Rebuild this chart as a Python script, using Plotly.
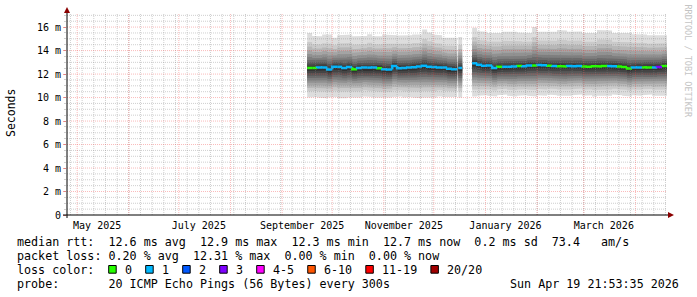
import plotly.graph_objects as go
import pandas as pd

# ---------------- data ----------------
END = pd.Timestamp("2026-04-19 21:53:35")
START = END - pd.Timedelta(days=360)

# segment A: 2025-09-16 .. 2025-12-15 (3-day buckets)
seg_a_range = ("2025-09-16 00:00", "2025-12-15 00:00")
median_a = [12.52, 12.52, 12.55, 12.57, 12.38, 12.62, 12.62, 12.52, 12.60, 12.40,
            12.52, 12.55, 12.55, 12.57, 12.50, 12.40, 12.38, 12.68, 12.50, 12.52,
            12.55, 12.58, 12.65, 12.70, 12.62, 12.60, 12.57, 12.55, 12.45, 12.40]
max_a = [15.50, 15.25, 15.22, 15.36, 15.36, 15.10, 15.30, 15.36, 15.36, 15.22,
         15.22, 15.25, 15.40, 15.22, 15.22, 15.36, 15.36, 15.30, 15.28, 15.28,
         15.30, 15.36, 15.36, 15.80, 15.55, 15.36, 15.30, 15.10, 15.07, 15.10]
min_a = [10.00, 10.05, 10.00, 9.95, 10.00, 10.05, 9.95, 9.95, 10.00, 10.05,
         10.00, 10.10, 10.05, 10.00, 10.00, 9.95, 10.00, 10.05, 10.10, 10.00,
         10.05, 10.00, 9.95, 10.00, 10.05, 10.00, 10.10, 10.05, 10.00, 10.05]
loss_a = [0, 0, 1, 1, 1, 1, 1, 1, 1, 0,
          1, 1, 1, 1, 0, 1, 1, 1, 1, 1,
          1, 1, 1, 1, 1, 1, 1, 1, 1, 1]

# segment B: short strip after a one-sample gap
seg_b_range = ("2025-12-15 16:00", "2025-12-18 00:00")
median_b = [12.52]
max_b = [15.15]
min_b = [10.00]
loss_b = [1]

# segment C: 2025-12-24 .. end
seg_c_range = ("2025-12-24 00:00", "2026-04-19 21:53:35")
median_c = [12.92, 12.80, 12.70, 12.72, 12.52, 12.62, 12.63, 12.62, 12.64, 12.68,
            12.66, 12.74, 12.72, 12.77, 12.75, 12.70, 12.68, 12.66, 12.65, 12.68,
            12.66, 12.69, 12.64, 12.62, 12.66, 12.65, 12.68, 12.68, 12.66, 12.64,
            12.60, 12.47, 12.55, 12.57, 12.58, 12.56, 12.57, 12.60, 12.68]
max_c = [15.95, 15.65, 15.60, 15.50, 15.50, 15.50, 15.60, 15.62, 15.60, 15.55,
         15.50, 15.50, 16.00, 15.60, 15.55, 15.60, 15.60, 15.75, 15.70, 15.60,
         15.60, 15.62, 15.50, 15.50, 15.50, 15.75, 15.70, 15.70, 15.50, 15.50,
         15.45, 15.50, 15.40, 15.36, 15.36, 15.30, 15.30, 15.25, 15.30]
min_c = [10.10, 10.15, 10.20, 10.15, 10.10, 10.20, 10.25, 10.15, 10.10, 10.15,
         10.20, 10.15, 10.10, 10.20, 10.15, 10.25, 10.20, 10.15, 10.10, 10.15,
         10.20, 10.25, 10.15, 10.20, 10.10, 10.15, 10.20, 10.15, 10.25, 10.20,
         10.15, 10.10, 10.20, 10.15, 10.20, 10.25, 10.15, 10.20, 10.15]
loss_c = [1, 1, 1, 1, 1, 0, 1, 1, 1, 0,
          1, 1, 0, 1, 1, 0, 1, 0, 0, 1,
          1, 1, 0, 0, 0, 0, 0, 1, 1, 0,
          0, 0, 1, 1, 0, 0, 1, 3, 0]

# loss colour legend
loss_labels = ["0", "1", "2", "3", "4-5", "6-10", "11-19", "20/20"]
loss_upper = [0, 1, 2, 3, 5, 10, 19, 20]
loss_colors = ["#26ff00", "#00b8ff", "#0059ff", "#7e00ff", "#ff00ff", "#ff5500", "#ff0000", "#a10000"]

# y ticks
y_tick_vals = [0, 2, 4, 6, 8, 10, 12, 14, 16]
y_tick_text = ["0", "2 m", "4 m", "6 m", "8 m", "10 m", "12 m", "14 m", "16 m"]

# x labels
x_label_dates = ["2025-05-13", "2025-07-13", "2025-09-13", "2025-11-13", "2026-01-13", "2026-03-13"]
x_label_text = ["May 2025", "July 2025", "September 2025", "November 2025", "January 2026", "March 2026"]

# statistics text
rtt_stats = ["12.6 ms avg", "12.9 ms max", "12.3 ms min", "12.7 ms now", "0.2 ms sd", "73.4   am/s"]
loss_stats = ["0.20 % avg", "12.31 % max", "0.00 % min", "0.00 % now"]
probe_text = "20 ICMP Echo Pings (56 Bytes) every 300s"
stamp_text = "Sun Apr 19 21:53:35 2026"

# ---------------- style ----------------
FONT = "DejaVu Sans Mono"
W, H = 697, 297
PL, PR, PT, PB = 67, 667, 13, 215
Y_MAX = 17.2

# smoke profile (fraction of spread from median), inner -> outer, and grays
hi_frac = [0.05, 0.10, 0.16, 0.23, 0.31, 0.40, 0.50, 0.61, 0.74, 1.0]
lo_frac = [0.10, 0.18, 0.26, 0.34, 0.42, 0.50, 0.59, 0.68, 0.79, 1.0]
grays = ["#323232", "#454545", "#585858", "#6b6b6b", "#7e7e7e",
         "#919191", "#a4a4a4", "#b7b7b7", "#cacaca", "#dddddd"]


def xp(px):
    return (px - PL) / (PR - PL)


def yp(py):
    return (PB - py) / (PB - PT)


segments = [
    (seg_a_range, median_a, max_a, min_a, loss_a),
    (seg_b_range, median_b, max_b, min_b, loss_b),
    (seg_c_range, median_c, max_c, min_c, loss_c),
]

fig = go.Figure()

# smoke: nested polygons, outer first
for k in range(len(hi_frac) - 1, -1, -1):
    xs, ys = [], []
    for (rng, med, mx, mn, loss) in segments:
        n = len(med)
        edges = pd.date_range(rng[0], rng[1], periods=n + 1)
        up = [m + hi_frac[k] * (t - m) for m, t in zip(med, mx)]
        lo = [m - lo_frac[k] * (m - b) for m, b in zip(med, mn)]
        px_, py_ = [], []
        for i in range(n):
            px_ += [edges[i], edges[i + 1]]
            py_ += [up[i], up[i]]
        for i in range(n - 1, -1, -1):
            px_ += [edges[i + 1], edges[i]]
            py_ += [lo[i], lo[i]]
        xs += px_ + [None]
        ys += py_ + [None]
    fig.add_trace(go.Scatter(x=xs, y=ys, mode="lines", fill="toself",
                             fillcolor=grays[k], line=dict(width=0, color=grays[k]),
                             hoverinfo="skip", showlegend=False))


def loss_color(v):
    for up_, c in zip(loss_upper, loss_colors):
        if v <= up_:
            return c
    return loss_colors[-1]


# median line coloured by loss
lines = {c: ([], []) for c in loss_colors}
for (rng, med, mx, mn, loss) in segments:
    n = len(med)
    edges = pd.date_range(rng[0], rng[1], periods=n + 1)
    for i in range(n):
        c = loss_color(loss[i])
        lx, ly = lines[c]
        if i > 0:
            lx += [edges[i]]
            ly += [med[i - 1]]
        lx += [edges[i], edges[i + 1], None]
        ly += [med[i], med[i], None]
for c, (lx, ly) in lines.items():
    if lx:
        fig.add_trace(go.Scatter(x=lx, y=ly, mode="lines", line=dict(color=c, width=2.5),
                                 hoverinfo="skip", showlegend=False))

shapes = []
DOT = "1px,1px"
minor_col = "rgba(130,130,130,0.38)"
major_col = "rgba(240,60,60,0.35)"

# minor vertical grid (weekly, Sundays)
for d in pd.date_range("2025-04-27", END, freq="7D"):
    shapes.append(dict(type="line", xref="x", yref="paper", x0=d, x1=d, y0=0, y1=1,
                       line=dict(color=minor_col, width=1, dash=DOT), layer="above"))
# minor horizontal grid
v = 0.5
while v <= 17.0 + 1e-9:
    if abs(v / 2 - round(v / 2)) > 1e-9:
        shapes.append(dict(type="line", xref="paper", yref="y", x0=0, x1=1, y0=v, y1=v,
                           line=dict(color=minor_col, width=1, dash=DOT), layer="above"))
    v += 0.5
# major vertical grid (month starts)
for d in pd.date_range("2025-05-01", END, freq="MS"):
    shapes.append(dict(type="line", xref="x", yref="paper", x0=d, x1=d, y0=0, y1=1,
                       line=dict(color=major_col, width=1, dash=DOT), layer="above"))
# major horizontal grid
for v in y_tick_vals[1:]:
    shapes.append(dict(type="line", xref="paper", yref="y", x0=0, x1=1, y0=v, y1=v,
                       line=dict(color=major_col, width=1, dash=DOT), layer="above"))

# axes lines
shapes.append(dict(type="line", xref="paper", yref="paper", x0=xp(63), x1=xp(670), y0=0, y1=0,
                   line=dict(color="black", width=1), layer="above"))
shapes.append(dict(type="line", xref="paper", yref="paper", x0=0, x1=0, y0=yp(218), y1=yp(11),
                   line=dict(color="black", width=1), layer="above"))
# arrows
shapes.append(dict(type="path", xref="paper", yref="paper", xsizemode="pixel", ysizemode="pixel",
                   xanchor=xp(668), yanchor=0, path="M 0,-3 L 6,0 L 0,3 Z",
                   fillcolor="#8b0000", line=dict(color="#8b0000", width=0), layer="above"))
shapes.append(dict(type="path", xref="paper", yref="paper", xsizemode="pixel", ysizemode="pixel",
                   xanchor=0, yanchor=yp(13), path="M -3,0 L 0,6 L 3,0 Z",
                   fillcolor="#8b0000", line=dict(color="#8b0000", width=0), layer="above"))

annotations = []
CW = 7.02  # char width of legend font
LF = 11.7


def text_at(px, py, s, size=LF, anchor="left", color="black", angle=0):
    annotations.append(dict(xref="paper", yref="paper", x=xp(px), y=yp(py), text=s.replace(" ", "\u00a0"),
                            showarrow=False, xanchor=anchor, yanchor="middle", textangle=angle,
                            font=dict(family=FONT, size=size, color=color), borderpad=0))


row1 = "median rtt:  " + "  ".join(rtt_stats)
row2 = "packet loss: " + "  ".join(loss_stats)
text_at(16, 241.8, row1)
text_at(16, 255.8, row2)
text_at(16, 269.8, "loss color:")
text_at(16, 283.5, "probe:       " + probe_text)
text_at(680, 283.5, stamp_text, anchor="right")

# loss colour boxes
bx = 108.7
for lab, col in zip(loss_labels, loss_colors):
    shapes.append(dict(type="rect", xref="paper", yref="paper", x0=xp(bx), x1=xp(bx + 7.5),
                       y0=yp(273.2), y1=yp(265.5), fillcolor=col,
                       line=dict(color="black", width=1), layer="above"))
    text_at(bx + 15, 269.8, lab)
    bx += 37 + CW * (len(lab) - 1)

# axis title & watermark
text_at(10.5, 113.5, "Seconds", size=11.5, anchor="center", angle=-90)
text_at(687.5, 61, "RRDTOOL / TOBI OETIKER", size=8.5, anchor="center", color="#c4c4c4", angle=90)

fig.update_layout(
    width=W, height=H,
    margin=dict(l=PL, r=W - PR, t=PT, b=H - PB),
    paper_bgcolor="white", plot_bgcolor="white",
    showlegend=False,
    shapes=shapes, annotations=annotations,
    xaxis=dict(type="date", range=[START, END], showgrid=False, zeroline=False, showline=False,
               tickvals=x_label_dates, ticktext=x_label_text, ticks="", ticklabelstandoff=3,
               tickfont=dict(family=FONT, size=10, color="#000000"), fixedrange=True),
    yaxis=dict(range=[0, Y_MAX], showgrid=False, zeroline=False, showline=False,
               tickvals=y_tick_vals, ticktext=y_tick_text, ticks="outside", ticklen=3,
               tickcolor="rgba(240,60,60,0.5)",
               minor=dict(dtick=0.5, tick0=0, ticks="outside", ticklen=2, tickcolor=minor_col, showgrid=False),
               tickfont=dict(family=FONT, size=10, color="#000000"), fixedrange=True),
)

fig.write_html("out.html")
